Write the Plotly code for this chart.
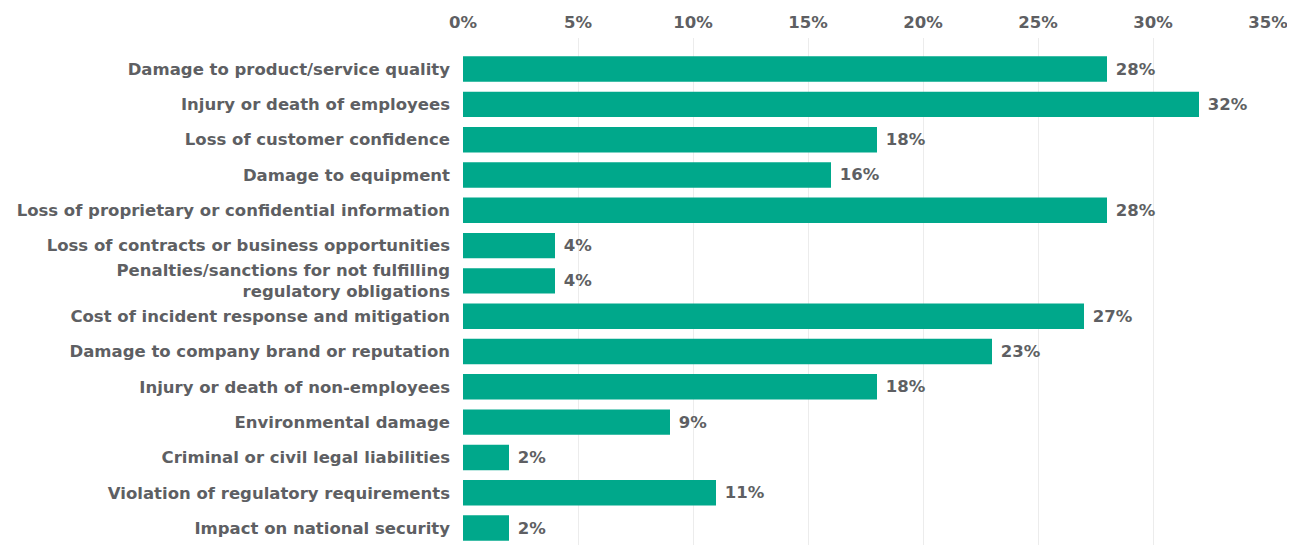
import plotly.graph_objects as go

categories = [
    "Damage to product/service quality",
    "Injury or death of employees",
    "Loss of customer confidence",
    "Damage to equipment",
    "Loss of proprietary or confidential information",
    "Loss of contracts or business opportunities",
    "Penalties/sanctions for not fulfilling<br>regulatory obligations",
    "Cost of incident response and mitigation",
    "Damage to company brand or reputation",
    "Injury or death of non-employees",
    "Environmental damage",
    "Criminal or civil legal liabilities",
    "Violation of regulatory requirements",
    "Impact on national security",
]
values = [28, 32, 18, 16, 28, 4, 4, 27, 23, 18, 9, 2, 11, 2]
tick_vals = [0, 5, 10, 15, 20, 25, 30, 35]
tick_text = ["0%", "5%", "10%", "15%", "20%", "25%", "30%", "35%"]

GRAY = "#5e5f63"
FONT = "DejaVu Sans"
FS = 16.5

fig = go.Figure(go.Bar(
    x=values,
    y=categories,
    orientation="h",
    marker=dict(color="#00a88b", line=dict(width=0)),
    width=0.72,
    text=[f" {v}%" for v in values],
    textposition="outside",
    cliponaxis=False,
    textfont=dict(family=FONT, size=FS, color=GRAY, weight="bold"),
))

fig.update_layout(
    width=1287, height=537,
    margin=dict(l=455, r=27, t=30, b=0),
    plot_bgcolor="white", paper_bgcolor="white",
    showlegend=False,
    font=dict(family=FONT, size=FS, color=GRAY),
    xaxis=dict(
        side="top", range=[0, 35], tickvals=tick_vals, ticktext=tick_text,
        showgrid=True, gridcolor="#ececec", gridwidth=1,
        zeroline=False, showline=False, ticks="",
        tickfont=dict(family=FONT, size=FS, color=GRAY, weight="bold"),
        ticklabelstandoff=6, automargin=False,
    ),
    yaxis=dict(
        type="category", range=[13.48, -0.88],
        showgrid=False, zeroline=False, showline=False, ticks="",
        tickfont=dict(family=FONT, size=FS, color=GRAY, weight="bold"),
        ticklabelstandoff=12, automargin=False,
    ),
)

fig.write_html("out.html")
